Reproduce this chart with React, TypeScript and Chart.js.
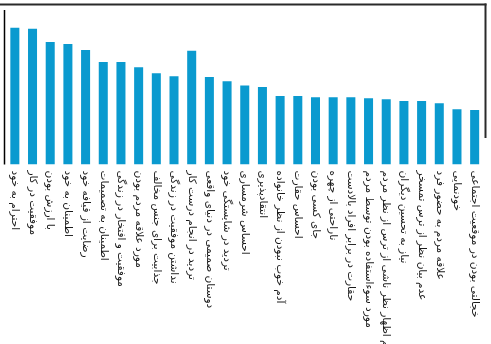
import React, { useEffect, useRef } from "react";
import { Chart, registerables } from "chart.js";

Chart.register(...registerables);

const categories: string[] = [
  "احترام به خود",
  "موفقیت در کار",
  "با ارزش بودن",
  "اطمینان به خود",
  "رضایت از قیافه خود",
  "اطمینان به تصمیمات",
  "موفقیت و افتخار در زندگی",
  "مورد علاقه مردم بودن",
  "جذابیت برای جنس مخالف",
  "نداشتن موفقیت در زندگی",
  "تردید در انجام درست کار",
  "دوستان صمیمی در دنیای واقعی",
  "تردید در شایستگی خود",
  "احساس شرمساری",
  "انتقادپذیری",
  "آدم خوب نبودن از نظر خانواده",
  "احساس حقارت",
  "جای کسی بودن",
  "ناراحتی از چهره",
  "حقارت در برابر افراد بالادست",
  "مورد سوءاستفاده بودن توسط مردم",
  "عدم اظهار نظر ناشی از ترس از نظر مردم",
  "نیاز به تحسین دیگران",
  "عدم بیان نظر از ترس تمسخر",
  "علاقه مردم به حضور فرد",
  "خودنمایی",
  "خجالتی بودن در موقعیت اجتماعی",
];

const values: number[] = [
  88.5, 87.9, 79.3, 78.0, 74.1, 66.3, 66.3, 62.9, 59.0, 57.1, 73.7, 56.6, 53.9,
  51.1, 50.2, 44.3, 44.3, 43.5, 43.5, 43.5, 42.8, 42.2, 41.1, 41.1, 39.6, 35.7,
  35.3,
];

const yMin = 0;
const yMax = 100;

const framePlugin = {
  id: "frameAndLabels",
  afterDraw(chart: any) {
    const ctx = chart.ctx as CanvasRenderingContext2D;
    const area = chart.chartArea;
    const xs = chart.scales.x;
    ctx.save();
    // top border
    ctx.strokeStyle = "#2a2a2a";
    ctx.lineWidth = 2;
    ctx.beginPath();
    ctx.moveTo(0, 4.5);
    ctx.lineTo(486.5, 4.5);
    ctx.stroke();
    // right border (partial)
    ctx.beginPath();
    ctx.moveTo(485.5, 3.5);
    ctx.lineTo(485.5, 138);
    ctx.stroke();
    // left axis
    ctx.strokeStyle = "#000";
    ctx.lineWidth = 1.5;
    ctx.beginPath();
    ctx.moveTo(4.5, area.top);
    ctx.lineTo(4.5, area.bottom);
    ctx.stroke();
    // labels rotated clockwise
    ctx.fillStyle = "#1a1a1a";
    ctx.font = "10.5px 'DejaVu Sans'";
    ctx.textAlign = "left";
    ctx.textBaseline = "middle";
    const labels = chart.data.labels as string[];
    labels.forEach((lab, i) => {
      const x = xs.getPixelForValue(i);
      ctx.save();
      ctx.translate(x, area.bottom + 6);
      ctx.rotate(Math.PI / 2);
      ctx.fillText(lab, 0, 0);
      ctx.restore();
    });
    ctx.restore();
  },
};

export default function App() {
  const ref = useRef<HTMLCanvasElement | null>(null);
  useEffect(() => {
    if (!ref.current) return;
    const chart = new Chart(ref.current, {
      type: "bar",
      data: {
        labels: categories,
        datasets: [
          {
            data: values,
            backgroundColor: "#0a9acf",
            borderWidth: 0,
            barPercentage: 0.51,
            categoryPercentage: 1,
          },
        ],
      },
      options: {
        responsive: false,
        animation: false,
        layout: { padding: { left: 6, right: 7.5, top: 10, bottom: 179.5 } },
        plugins: { legend: { display: false }, tooltip: { enabled: false } },
        scales: {
          x: { display: false },
          y: { display: false, min: yMin, max: yMax },
        },
      },
      plugins: [framePlugin],
    });
    return () => chart.destroy();
  }, []);
  return (
    <div style={{ position: "absolute", left: 0, top: 0, width: 491, height: 344, background: "#fff" }}>
      <canvas ref={ref} width={491} height={344} style={{ display: "block" }} />
    </div>
  );
}
